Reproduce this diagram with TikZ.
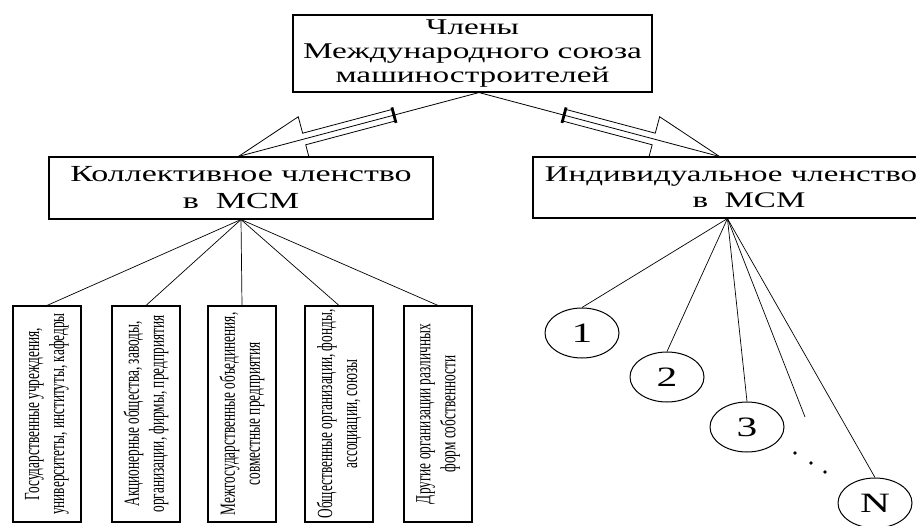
\documentclass[tikz,border=0pt]{standalone}
\usepackage{fontspec}
\setmainfont{Liberation Serif}
\newfontfamily\widefont[FakeStretch=1.48]{Liberation Serif}
\newfontfamily\narrowfont[FakeStretch=0.62]{Liberation Serif}
\usetikzlibrary{calc,shapes.geometric,backgrounds}
\newcommand\hollowarrow[3]{%
  \coordinate (#3b) at ($(#2)!68pt!(#1)$);
  \coordinate (#3t) at ($(#1)!88pt!(#2)$);
  \draw[line width=0.8pt, line join=miter]
    (#2) -- ($(#3b)!23pt!90:(#1)$) -- ($(#3b)!6pt!90:(#1)$)
    -- ($(#3t)!6pt!-90:(#2)$) -- ($(#3t)!6pt!90:(#2)$)
    -- ($(#3b)!6pt!-90:(#1)$) -- ($(#3b)!23pt!-90:(#1)$) -- cycle;
  \draw[line width=0.8pt] (#1) -- (#2);
  \draw[line width=2.8pt] ($(#3t)!8pt!90:(#2)$) -- ($(#3t)!8pt!-90:(#2)$);
}
\begin{document}
\begin{tikzpicture}[x=1pt,y=-1pt,
  box/.style={draw, line width=1.1pt, fill=white, inner sep=0pt, align=center},
  vbox/.style={draw, line width=1.1pt, fill=white, inner sep=0pt, align=center,
    rotate=90, minimum width=216pt, minimum height=68pt,
    font=\narrowfont\fontsize{21.5}{25}\selectfont},
  member/.style={draw, ellipse, line width=1pt, fill=white, inner sep=0pt,
    minimum width=74pt, minimum height=50pt,
    font=\widefont\fontsize{28}{28}\selectfont},
  link/.style={line width=0.7pt}]
\useasboundingbox (0,0) rectangle (916,525);
\clip (0,0) rectangle (916,525);

% main boxes
\node[box, minimum width=359pt, minimum height=77pt,
  font=\widefont\fontsize{22.5}{24}\selectfont] (top) at (472.5,53.5)
  {Члены\\Международного союза\\машиностроителей};
\node[box, minimum width=384pt, minimum height=62pt,
  font=\widefont\fontsize{23}{27}\selectfont] (coll) at (241,188)
  {Коллективное членство\\в~~МСМ};
\node[box, minimum width=396pt, minimum height=61pt,
  font=\widefont\fontsize{22.3}{26}\selectfont] (ind) at (731,187.5)
  {Индивидуальное членство\\\hspace*{36pt}в~~МСМ};

% hollow arrows (behind the boxes)
\coordinate (src) at ($(top.south)+(6.5,0)$);
\coordinate (tipL) at ($(coll.north west)+(190,0)$);
\coordinate (tipR) at ($(ind.north west)+(187,0)$);
\coordinate (indhub) at ($(ind.south west)+(195,0)$);
\begin{scope}[on background layer]
  \hollowarrow{src}{tipL}{aL}
  \hollowarrow{src}{tipR}{aR}
\end{scope}

% collective members
\node[vbox] (v1) at (47,414) {Государственные учреждения,\\университеты, институты, кафедры};
\node[vbox] (v2) at (146,414) {Акционерные общества, заводы,\\организации, фирмы, предприятия};
\node[vbox] (v3) at (242,414) {Межгосударственные объединения,\\совместные предприятия};
\node[vbox] (v4) at (339,414) {Общественные организации, фонды,\\ассоциации, союзы};
\node[vbox] (v5) at (438,414) {Другие организации различных\\форм собственности};
\foreach \v in {v1,v2,v3,v4,v5}
  \draw[link] (coll.south) -- (\v.east);

% individual members
\node[member] (m1) at (582,333) {1};
\node[member] (m2) at (667,377) {2};
\node[member] (m3) at (747,427) {3};
\node[member] (mN) at (875,503) {N};
\coordinate (more) at (805,417);
\foreach \m in {m1,m2,m3,mN}
  \draw[link] (indhub) -- (\m.north);
\draw[link] (indhub) -- (more);
\fill (795,453) circle (1.8pt);
\fill (811,463) circle (1.8pt);
\fill (825,472) circle (1.8pt);
\end{tikzpicture}
\end{document}
